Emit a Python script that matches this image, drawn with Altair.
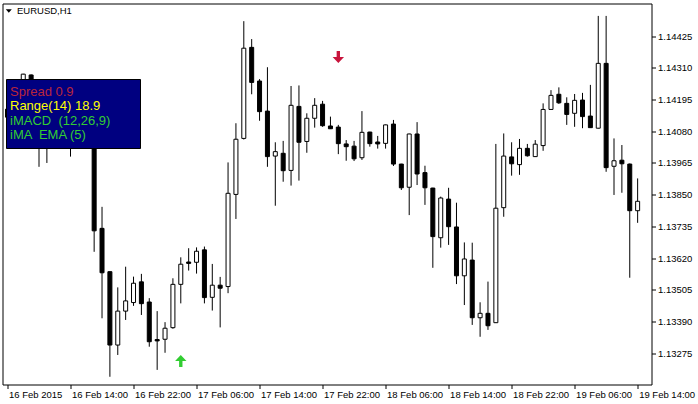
import altair as alt
import pandas as pd

# EURUSD H1 candles, one per hour starting 16 Feb 2015 06:00
opens = [1.14160, 1.14135, 1.14193, 1.14284, 1.14157, 1.14103, 1.14150, 1.14121, 1.14175, 1.14103,
         1.14139, 1.14084, 1.13728, 1.13571, 1.13305, 1.13428, 1.13459, 1.13534, 1.13461, 1.13325,
         1.13326, 1.13368, 1.13525, 1.13606, 1.13605, 1.13650, 1.13478, 1.13522, 1.13517, 1.13851,
         1.14054, 1.14384, 1.14262, 1.14153, 1.13990, 1.14000, 1.13938, 1.14170, 1.14043, 1.14127,
         1.14178, 1.14099, 1.14095, 1.14034, 1.14026, 1.13984, 1.14077, 1.14041, 1.14036, 1.14106,
         1.13961, 1.13877, 1.14070, 1.13930, 1.13874, 1.13694, 1.13834, 1.13733, 1.13556, 1.13613,
         1.13404, 1.13420, 1.13386, 1.13803, 1.13987, 1.13959, 1.14018, 1.13988, 1.14028, 1.14159,
         1.14214, 1.14181, 1.14145, 1.14193, 1.14135, 1.14091, 1.14326, 1.13953, 1.13975, 1.13961,
         1.13792]
highs = [1.14179, 1.14211, 1.14288, 1.14286, 1.14175, 1.14193, 1.14175, 1.14211, 1.14193, 1.14164,
         1.14157, 1.14121, 1.13806, 1.13572, 1.13514, 1.13589, 1.13553, 1.13563, 1.13475, 1.13428,
         1.13388, 1.13547, 1.13623, 1.13656, 1.13659, 1.13662, 1.13599, 1.13552, 1.13967, 1.14109,
         1.14479, 1.14414, 1.14269, 1.14312, 1.14040, 1.14045, 1.14244, 1.14246, 1.14145, 1.14200,
         1.14190, 1.14133, 1.14103, 1.14048, 1.14045, 1.14153, 1.14078, 1.14063, 1.14104, 1.14121,
         1.13962, 1.14071, 1.14113, 1.13955, 1.13875, 1.13843, 1.13875, 1.13821, 1.13677, 1.13676,
         1.13460, 1.13535, 1.14034, 1.14072, 1.14040, 1.14052, 1.14034, 1.14048, 1.14181, 1.14229,
         1.14239, 1.14203, 1.14215, 1.14219, 1.14248, 1.14498, 1.14498, 1.14054, 1.14030, 1.13963,
         1.13909]
lows = [1.14121, 1.14113, 1.14179, 1.14139, 1.13951, 1.13965, 1.14084, 1.14092, 1.13988, 1.14066,
        1.14016, 1.13643, 1.13402, 1.13190, 1.13269, 1.13396, 1.13447, 1.13414, 1.13299, 1.13215,
        1.13277, 1.13364, 1.13456, 1.13575, 1.13564, 1.13456, 1.13430, 1.13369, 1.13493, 1.13762,
        1.14050, 1.14214, 1.14118, 1.13951, 1.13810, 1.13897, 1.13883, 1.13901, 1.14002, 1.14093,
        1.14096, 1.14088, 1.13997, 1.13973, 1.13972, 1.13976, 1.14024, 1.14017, 1.14017, 1.13954,
        1.13867, 1.13776, 1.13885, 1.13813, 1.13585, 1.13658, 1.13668, 1.13526, 1.13450, 1.13378,
        1.13335, 1.13360, 1.13385, 1.13770, 1.13919, 1.13922, 1.13988, 1.13987, 1.14009, 1.14158,
        1.14179, 1.14103, 1.14096, 1.14091, 1.14092, 1.14090, 1.13933, 1.13849, 1.13857, 1.13549,
        1.13748]
closes = [1.14131, 1.14193, 1.14287, 1.14157, 1.14103, 1.14150, 1.14121, 1.14175, 1.14103, 1.14139,
          1.14084, 1.13719, 1.13567, 1.13305, 1.13428, 1.13465, 1.13529, 1.13455, 1.13317, 1.13320,
          1.13366, 1.13525, 1.13598, 1.13601, 1.13645, 1.13477, 1.13522, 1.13511, 1.13855, 1.14051,
          1.14381, 1.14257, 1.14151, 1.13988, 1.14006, 1.13937, 1.14174, 1.14040, 1.14127, 1.14174,
          1.14100, 1.14089, 1.14035, 1.14024, 1.13980, 1.14076, 1.14035, 1.14034, 1.14103, 1.13961,
          1.13875, 1.14070, 1.13925, 1.13875, 1.13698, 1.13838, 1.13734, 1.13556, 1.13617, 1.13404,
          1.13420, 1.13375, 1.13801, 1.13990, 1.13962, 1.14018, 1.13991, 1.14033, 1.14159, 1.14210,
          1.14183, 1.14141, 1.14192, 1.14133, 1.14093, 1.14326, 1.13948, 1.13973, 1.13962, 1.13792,
          1.13826]

# time axis labels, one every 8 bars
time_labels = ["16 Feb 2015", "16 Feb 14:00", "16 Feb 22:00", "17 Feb 06:00", "17 Feb 14:00",
               "17 Feb 22:00", "18 Feb 06:00", "18 Feb 14:00", "18 Feb 22:00", "19 Feb 06:00",
               "19 Feb 14:00"]
price_ticks = [1.13275, 1.13390, 1.13505, 1.13620, 1.13735, 1.13850, 1.13965, 1.14080,
               1.14195, 1.14310, 1.14425]

# indicator signal arrows
signal_bars = [22, 42]
signal_prices = [1.13247, 1.14349]
signal_kinds = ["buy", "sell"]

# info panel lines (no-break spaces keep the double gaps)
info_lines = ["Spread 0.9", "Range(14) 18.9", "iMACD \u00a0(12,26,9)", "iMA \u00a0EMA (5)"]
info_colors = ["#B8263A", "#FFFF00", "#32CD32", "#32CD32"]

FONT = "Liberation Sans"
BARS_PER_LABEL = 8

candles = pd.DataFrame({
    "bar": list(range(len(opens))),
    "open": opens, "high": highs, "low": lows, "close": closes,
})
candles["dir"] = ["up" if c >= o else "down" for o, c in zip(opens, closes)]

signals = pd.DataFrame({"bar": signal_bars, "price": signal_prices, "kind": signal_kinds})

x_scale = alt.Scale(domain=[0, 81.125], nice=False, zero=False)
y_scale = alt.Scale(domain=[1.13162, 1.14543], nice=False, zero=False)

label_expr = f"{time_labels}[round(datum.value / {BARS_PER_LABEL})]"

x_axis = alt.Axis(values=list(range(0, len(opens), BARS_PER_LABEL)), labelExpr=label_expr,
                  orient="bottom", domain=False, grid=False, tickSize=4, tickColor="black",
                  labelAlign="left", labelBaseline="top", labelPadding=1, labelOffset=1,
                  labelFont=FONT, labelFontSize=9.5, labelColor="black",
                  labelOverlap=False, labelFlush=False, title=None)
y_axis = alt.Axis(values=price_ticks, format=".5f", orient="right", domain=False, grid=False,
                  tickSize=4, tickColor="black", labelPadding=2, labelFont=FONT,
                  labelFontSize=9.5, labelColor="black", labelOverlap=False, labelFlush=False,
                  labelBaseline="middle", title=None)

X = alt.X("bar:Q", scale=x_scale, axis=x_axis)

base = alt.Chart(candles)

wicks = base.mark_rule(color="black", strokeWidth=1, clip=True).encode(
    x=X,
    y=alt.Y("low:Q", scale=y_scale, axis=y_axis),
    y2="high:Q",
)

bodies = base.mark_bar(size=4, stroke="black", strokeWidth=1, clip=True).encode(
    x=X,
    y=alt.Y("open:Q", scale=y_scale, axis=y_axis),
    y2="close:Q",
    fill=alt.Fill("dir:N", scale=alt.Scale(domain=["up", "down"], range=["white", "black"]),
                  legend=None),
)

up_arrow = "M-0.28,1 L0.28,1 L0.28,0 L0.95,0 L0,-1 L-0.95,0 L-0.28,0 Z"
down_arrow = "M-0.28,-1 L0.28,-1 L0.28,0 L0.95,0 L0,1 L-0.95,0 L-0.28,0 Z"

arrows = alt.Chart(signals).mark_point(filled=True, size=144, opacity=1, strokeWidth=0).encode(
    x=X,
    y=alt.Y("price:Q", scale=y_scale, axis=y_axis),
    shape=alt.Shape("kind:N", scale=alt.Scale(domain=["buy", "sell"], range=[up_arrow, down_arrow]),
                    legend=None),
    color=alt.Color("kind:N", scale=alt.Scale(domain=["buy", "sell"], range=["#32CD32", "#C8143C"]),
                    legend=None),
)

one = pd.DataFrame({"v": [0]})

# symbol caption in the top-left corner
caption_mark = alt.Chart(one).mark_point(
    shape="M-1,-0.55 L1,-0.55 L0,0.6 Z", filled=True, size=36, color="black", opacity=1
).encode(x=alt.value(6.3), y=alt.value(7.5))
caption = alt.Chart(one).mark_text(
    text="EURUSD,H1", font=FONT, fontSize=9.5, color="black", align="left", baseline="middle"
).encode(x=alt.value(14.5), y=alt.value(7.5))

# info panel
panel = alt.Chart(one).mark_rect(fill="#000080", stroke="black", strokeWidth=1).encode(
    x=alt.value(4), x2=alt.value(138), y=alt.value(76), y2=alt.value(145)
)
panel_text = [
    alt.Chart(one).mark_text(
        text=line, font=FONT, fontSize=13, color=col, align="left", baseline="middle"
    ).encode(x=alt.value(7.5), y=alt.value(88.5 + 14.4 * i))
    for i, (line, col) in enumerate(zip(info_lines, info_colors))
]

chart = alt.layer(
    wicks, bodies, arrows, caption_mark, caption, panel, *panel_text
).properties(
    width=649, height=381,
    autosize=alt.AutoSizeParams(type="none"),
    padding={"left": 2.5, "top": 3.5, "right": 46.5, "bottom": 19.5},
    background="white",
).configure_view(
    stroke="black", strokeWidth=1
).configure_axis(
    labelOverlap=False
)

chart.save("out.html", embed_options={"renderer": "svg", "actions": False})
